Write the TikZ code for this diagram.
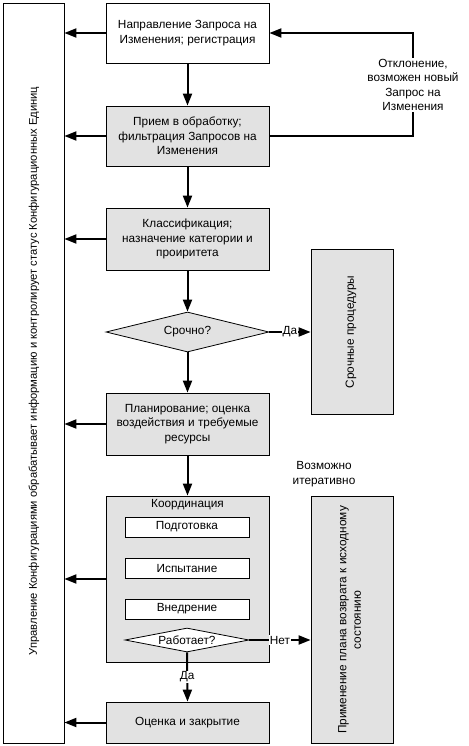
\documentclass[tikz,border=0pt]{standalone}
\usepackage{fontspec}
\setmainfont{Liberation Sans}
\usepackage{xcolor}
\usepackage{tikz}
\usetikzlibrary{shapes,arrows.meta,positioning,calc}
\definecolor{boxgray}{HTML}{E2E2E2}

\begin{document}
\begin{tikzpicture}[x=1pt,y=-1pt,
    every node/.style={font=\fontsize{11.8}{14.5}\selectfont, align=center},
    box/.style={draw, line width=0.8pt, fill=white, minimum width=163pt, inner sep=0pt},
    graybox/.style={box, fill=boxgray},
    subbox/.style={draw, line width=0.8pt, fill=white, minimum width=124pt, minimum height=20pt, inner sep=0pt},
    decision/.style={draw, diamond, line width=0.8pt, inner sep=0pt, aspect=4},
    arr/.style={-{Triangle[length=12pt,width=9pt]}, line width=2pt},
    lbl/.style={fill=white, inner sep=1pt}]
    \useasboundingbox (0,0) rectangle (468,746);

    % Left column
    \node[draw, line width=0.8pt, minimum width=61pt, minimum height=740pt, inner sep=0pt] (ctrl) at (33.5,373) {};
    \node[rotate=90, font=\fontsize{11.2}{14}\selectfont] (ctrltext) at (34,371) {Управление Конфигурациями обрабатывает информацию и контролирует статус Конфигурационных Единиц};

    % Main flow
    \node[box, minimum height=60pt] (req) at (187.5,33) {Направление Запроса на\\Изменения; регистрация};
    \node[graybox, minimum height=60pt] (acc) at (187.5,136) {Прием в обработку;\\фильтрация Запросов на\\Изменения};
    \node[graybox, minimum height=62pt] (cls) at (187.5,239) {Классификация;\\назначение категории и\\проиритета};
    \node[decision, fill=boxgray, minimum width=163pt, minimum height=40pt] (urg) at (187.5,332) {Срочно?};
    \node[graybox, minimum height=62pt] (plan) at (187.5,424) {Планирование; оценка\\воздействия и требуемые\\ресурсы};

    % Coordination
    \node[graybox, minimum height=166pt] (coord) at (187.5,579) {};
    \node (coordtext) at (187.5,505) {Координация};
    \node[subbox] (prep) at (187,527) {Подготовка};
    \node[subbox] (test) at (187,568) {Испытание};
    \node[subbox] (impl) at (187,609) {Внедрение};
    \node[decision, fill=white, minimum width=124pt, minimum height=24pt] (works) at (187,640) {Работает?};
    \node[graybox, minimum height=41pt] (close) at (187.5,722.5) {Оценка и закрытие};

    % Right column
    \node[draw, line width=0.8pt, fill=boxgray, minimum width=82pt, minimum height=165pt] (emerg) at (352,331.5) {};
    \node[rotate=90] (emergtext) at (351,332) {Срочные процедуры};
    \node[draw, line width=0.8pt, fill=boxgray, minimum width=82pt, minimum height=247pt] (back) at (352,619.5) {};
    \node[rotate=90] (backtext) at (349.5,620) {Применение плана возврата к исходному\\состоянию};
    \node (iter) at (324,474) {Возможно\\итеративно};

    % Flow arrows
    \draw[arr] (req) -- (acc);
    \draw[arr] (acc) -- (cls);
    \draw[arr] (cls) -- (urg);
    \draw[arr] (urg) -- (plan);
    \draw[arr] (plan) -- (coord);
    \draw[arr] (urg.east) -- node[lbl] {Да} (urg.east -| emerg.west);
    \draw[arr] (works.east) -- node[lbl] {Нет} (works.east -| back.west);
    \draw[arr] (works.south) -- node[lbl] {Да} (close.north);

    % Rejection loop
    \coordinate (loop) at (413,136);
    \draw[arr] (acc.east) -- (loop) |- (req.east);
    \node[lbl] (reject) at (413,85) {Отклонение,\\возможен новый\\Запрос на\\Изменения};

    % Arrows to left column
    \foreach \n in {req,acc,cls,plan,coord,close}
        \draw[arr] (\n.west) -- (\n.west -| ctrl.east);
\end{tikzpicture}
\end{document}
